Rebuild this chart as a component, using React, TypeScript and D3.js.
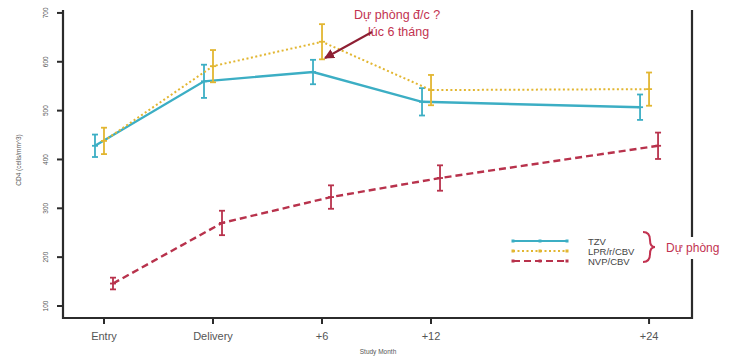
import React from "react";
import * as d3 from "d3";

// study visits and their spacing on the x axis (+24 sits two steps past +12)
const months = ["Entry", "Delivery", "+6", "+12", "+24"];
const monthPos = [0, 1, 2, 3, 5];

// CD4 means and error-bar half widths
const tzvMean = [428, 560, 579, 518, 507];
const tzvErr = [23, 34, 25, 28, 26];
const lprMean = [438, 591, 641, 542, 544];
const lprErr = [27, 33, 36, 31, 34];
const nvpMean = [146, 270, 323, 362, 428];
const nvpErr = [12, 25, 24, 26, 27];

const yTicks = [100, 200, 300, 400, 500, 600, 700];
const legendLabels = ["TZV", "LPR/r/CBV", "NVP/CBV"];

const width = 736;
const height = 360;
const font = "'Liberation Sans', Arial, sans-serif";
const red = "#c23250";

const series = [
  { name: legendLabels[0], mean: tzvMean, err: tzvErr, color: "#3caec4", dash: "", lw: 2.4, dodge: -9 },
  { name: legendLabels[1], mean: lprMean, err: lprErr, color: "#e2b631", dash: "2,2.5", lw: 2, dodge: 0 },
  { name: legendLabels[2], mean: nvpMean, err: nvpErr, color: "#b8324c", dash: "7,4", lw: 2.4, dodge: 9 },
];

export default function App() {
  const x = d3.scaleLinear().domain([-0.376, 5.394]).range([63, 692]);
  const y = d3.scaleLinear().domain([75.4, 706]).range([318, 10]);

  const line = (s: typeof series[0]) =>
    d3.line<number>()
      .x((d, i) => x(monthPos[i]) + s.dodge)
      .y(d => y(d))(s.mean) || "";

  return (
    <svg width={width} height={height} style={{ position: "absolute", left: 0, top: 0, background: "#fff" }}>
      {/* frame: left, bottom, right */}
      <path d={`M${x.range()[0]},${y.range()[1]}V${y.range()[0]}H${x.range()[1]}V${y.range()[1]}`}
        fill="none" stroke="#2b2b2b" strokeWidth={2.2} />

      {/* y axis */}
      {yTicks.map(t => (
        <g key={t} transform={`translate(63,${y(t)})`}>
          <line x1={-6} x2={0} stroke="#2b2b2b" strokeWidth={2} />
          <text transform="translate(-15,0) rotate(-90)" textAnchor="middle" fontSize={6.5}
            fill="#555" fontFamily={font}>{t}</text>
        </g>
      ))}
      <text transform="translate(21,160) rotate(-90)" textAnchor="middle" fontSize={6.5}
        fill="#555" fontFamily={font}>CD4 (cells/mm^3)</text>

      {/* x axis */}
      {months.map((m, i) => (
        <g key={m} transform={`translate(${x(monthPos[i])},318)`}>
          <line y1={0} y2={6} stroke="#2b2b2b" strokeWidth={2} />
          <text y={22} textAnchor="middle" fontSize={11} fill="#555" fontFamily={font}>{m}</text>
        </g>
      ))}
      <text x={378} y={354} textAnchor="middle" fontSize={6.5} fill="#555" fontFamily={font}>Study Month</text>

      {/* series lines and error bars */}
      {series.map(s => (
        <g key={s.name}>
          <path d={line(s)} fill="none" stroke={s.color} strokeWidth={s.lw} strokeDasharray={s.dash} />
          {s.mean.map((v, i) => {
            const cx = x(monthPos[i]) + s.dodge;
            const lo = y(v - s.err[i]);
            const hi = y(v + s.err[i]);
            return (
              <g key={i} stroke={s.color} strokeWidth={1.8}>
                <line x1={cx} x2={cx} y1={lo} y2={hi} />
                <line x1={cx - 3} x2={cx + 3} y1={lo} y2={lo} />
                <line x1={cx - 3} x2={cx + 3} y1={hi} y2={hi} />
                <line x1={cx - 3} x2={cx + 3} y1={y(v)} y2={y(v)} />
              </g>
            );
          })}
        </g>
      ))}

      {/* legend */}
      {series.map((s, i) => {
        const ly = 241 + i * 10;
        return (
          <g key={s.name}>
            <line x1={513} x2={567} y1={ly} y2={ly} stroke={s.color} strokeWidth={1.8} strokeDasharray={s.dash} />
            {[513, 540, 567].map(px => (
              <rect key={px} x={px - 1.5} y={ly - 1.5} width={3} height={3} fill={s.color} />
            ))}
            <text x={588} y={ly + 3.5} fontSize={9.5} fill="#444" fontFamily={font}>{s.name}</text>
          </g>
        );
      })}
      <path d="M643,232 Q650,232 650,240 Q650,247 655,247 Q650,247 650,254 Q650,262 643,262"
        fill="none" stroke={red} strokeWidth={2} />
      <rect x={662} y={237} width={58} height={22} fill="#fff" />
      <text x={666} y={252} fontSize={12} fill={red} fontFamily={font}>Dự phòng</text>

      {/* annotation */}
      <text x={354} y={19} fontSize={12.5} fill={red} fontFamily={font}>Dự phòng đ/c ?</text>
      <text x={368} y={36} fontSize={12.5} fill={red} fontFamily={font}>lúc 6 tháng</text>
      <defs>
        <marker id="arr" viewBox="0 0 10 10" refX={9} refY={5} markerWidth={5} markerHeight={5} orient="auto">
          <path d="M0,0L10,5L0,10z" fill="#8e1f33" />
        </marker>
      </defs>
      <line x1={372} y1={32} x2={325} y2={58} stroke="#8e1f33" strokeWidth={2} markerEnd="url(#arr)" />
    </svg>
  );
}
